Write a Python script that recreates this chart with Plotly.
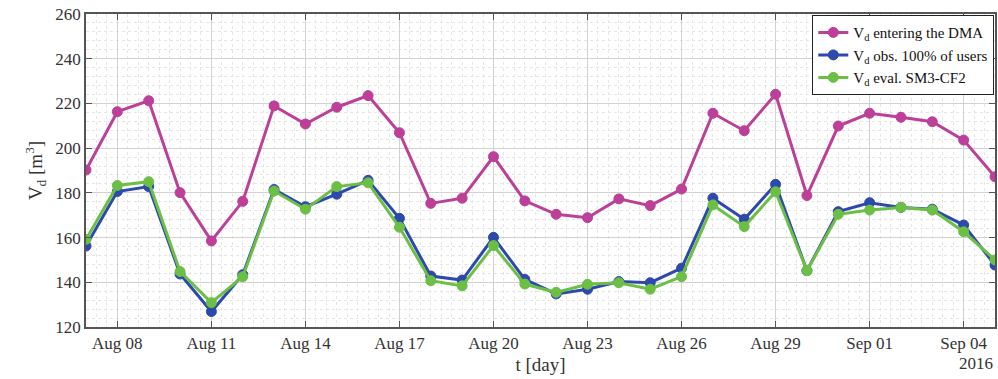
import plotly.graph_objects as go
import pandas as pd

days = pd.date_range("2016-08-07", "2016-09-05", freq="D")

v_entering = [190.2, 216.3, 221.2, 180.1, 158.5, 176.2, 218.9, 210.8, 218.3, 223.5,
              206.9, 175.3, 177.6, 196.2, 176.4, 170.4, 168.9, 177.3, 174.3, 181.7,
              215.6, 207.8, 224.1, 178.8, 209.9, 215.6, 213.8, 211.8, 203.6, 187.2]
v_observed = [156.2, 180.6, 182.8, 143.7, 126.9, 143.4, 181.5, 173.8, 179.4, 185.6,
              168.6, 142.8, 141.0, 160.1, 141.3, 134.8, 136.9, 140.3, 139.8, 146.3,
              177.6, 168.2, 183.8, 145.2, 171.6, 175.6, 173.5, 172.7, 165.6, 147.7]
v_evaluated = [159.2, 183.3, 185.0, 144.8, 130.9, 142.5, 180.8, 172.7, 182.8, 184.5,
               164.6, 140.7, 138.4, 156.4, 139.2, 135.5, 139.1, 139.8, 136.9, 142.5,
               174.6, 164.9, 180.5, 145.2, 170.4, 172.3, 173.5, 172.3, 162.6, 150.0]

names = ["V<sub>d</sub> entering the DMA",
         "V<sub>d</sub> obs. 100% of users",
         "V<sub>d</sub> eval. SM3-CF2"]
colors = ["#BC3F98", "#2D49AB", "#6CBF45"]
series = [v_entering, v_observed, v_evaluated]

tick_days = pd.date_range("2016-08-08", "2016-09-04", freq="3D")
tick_text = [d.strftime("%b %d") for d in tick_days]

font_family = "Liberation Serif"

fig = go.Figure()
for name, color, vals in zip(names, colors, series):
    fig.add_trace(go.Scatter(
        x=days, y=vals, name=name, mode="lines+markers",
        line=dict(color=color, width=3),
        marker=dict(color=color, size=10, line=dict(color=color, width=1)),
    ))

axis_common = dict(
    showline=True, linecolor="#555555", linewidth=1.5, mirror="ticks",
    ticks="inside", ticklen=6, tickcolor="#555555",
    showgrid=True, gridcolor="#D2D2D2", gridwidth=1,
    zeroline=False,
    tickfont=dict(family=font_family, size=17, color="#333333"),
)

fig.update_xaxes(
    **axis_common,
    type="date",
    range=[days[0], days[-1]],
    tickvals=tick_days, ticktext=tick_text,
    minor=dict(dtick=8 * 3600 * 1000, tick0="2016-08-07", showgrid=True,
               gridcolor="#E6E6E6", griddash="dot", gridwidth=1),
    title=dict(text="t [day]", font=dict(family=font_family, size=19, color="#333333"),
               standoff=6),
)
fig.update_yaxes(
    **axis_common,
    range=[120, 260], dtick=20,
    minor=dict(dtick=4, showgrid=True, gridcolor="#E6E6E6", griddash="dot", gridwidth=1),
    title=dict(text="V<sub>d</sub> [m<sup>3</sup>]",
               font=dict(family=font_family, size=19, color="#333333"), standoff=8),
)

fig.add_annotation(
    text="2016", xref="paper", yref="paper", x=1.0, y=0, yshift=-25,
    xanchor="right", yanchor="top", showarrow=False,
    font=dict(family=font_family, size=17, color="#333333"),
)

fig.update_layout(
    width=998, height=379,
    margin=dict(l=86, r=1, t=14, b=52),
    paper_bgcolor="white", plot_bgcolor="white",
    showlegend=True,
    legend=dict(
        x=0.999, y=0.997, xanchor="right", yanchor="top",
        bgcolor="white", bordercolor="#222222", borderwidth=1.2,
        font=dict(family=font_family, size=15, color="#111111"),
        itemwidth=30, tracegroupgap=0,
    ),
)

fig.write_html("out.html")
